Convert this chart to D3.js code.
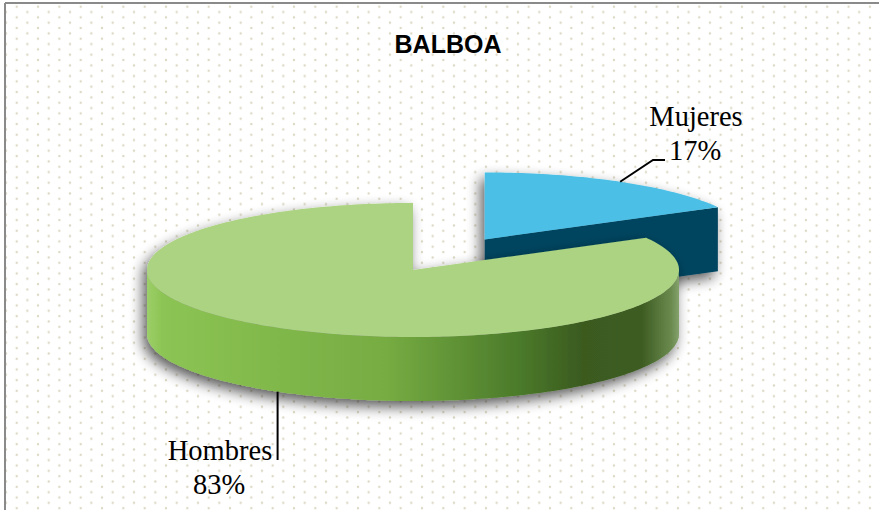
<!DOCTYPE html>
<html>
<head>
<meta charset="utf-8">
<script src="https://cdn.jsdelivr.net/npm/d3@7"></script>
<style>
  body { margin: 0; background: #fff; }
  svg { display: block; }
</style>
</head>
<body>
<script>
// data
var categories = ["Mujeres", "Hombres"];
var values = [17, 83];
var pctLabels = ["17%", "83%"];
var colorsTop = ["#4bbfe6", "#acd381"];
var explode = [0.53, 0];

var width = 879, height = 510;
var cx = 413, cy = 270, rx = 266, ry = 67, depth = 64;

var svg = d3.select("body").append("svg")
  .attr("width", width)
  .attr("height", height);

var defs = svg.append("defs");

// dotted background
var pat = defs.append("pattern")
  .attr("id", "dots")
  .attr("patternUnits", "userSpaceOnUse")
  .attr("x", 16.7).attr("y", 6.7)
  .attr("width", 21.33).attr("height", 10.67);
[[0, 0], [21.33, 0], [0, 10.67], [21.33, 10.67], [10.67, 5.33]].forEach(function(p) {
  pat.append("circle").attr("cx", p[0]).attr("cy", p[1]).attr("r", 1.2).attr("fill", "#dcd8c4");
});

// side gradient for green
var gGrad = defs.append("linearGradient")
  .attr("id", "greenSide")
  .attr("gradientUnits", "userSpaceOnUse")
  .attr("x1", cx - rx).attr("x2", cx + rx).attr("y1", 0).attr("y2", 0);
[[0, "#9ccf68"], [0.03, "#8cc454"], [0.45, "#76ac42"], [0.7, "#4b7a2a"], [0.82, "#3a5a1f"],
 [0.93, "#3d5c22"], [0.985, "#6a8a4e"], [1, "#84a26c"]].forEach(function(s) {
  gGrad.append("stop").attr("offset", s[0]).attr("stop-color", s[1]);
});

var sideFills = ["#00445f", "url(#greenSide)"];

var shadow = defs.append("filter").attr("id", "shadow")
  .attr("x", "-20%").attr("y", "-30%").attr("width", "140%").attr("height", "160%");
shadow.append("feGaussianBlur").attr("in", "SourceAlpha").attr("stdDeviation", 7).attr("result", "b");
shadow.append("feOffset").attr("in", "b").attr("dx", -4).attr("dy", 6).attr("result", "o");
shadow.append("feComponentTransfer").attr("in", "o").attr("result", "s")
  .append("feFuncA").attr("type", "linear").attr("slope", 0.65);
var merge = shadow.append("feMerge");
merge.append("feMergeNode").attr("in", "s");
merge.append("feMergeNode").attr("in", "SourceGraphic");

svg.append("rect")
  .attr("x", 6).attr("y", 4).attr("width", width).attr("height", height)
  .attr("fill", "url(#dots)");

// frame
svg.append("line").attr("x1", 5).attr("y1", 3).attr("x2", width).attr("y2", 3)
  .attr("stroke", "#8a8a8a").attr("stroke-width", 2);
svg.append("line").attr("x1", 5).attr("y1", 3).attr("x2", 5).attr("y2", height)
  .attr("stroke", "#8a8a8a").attr("stroke-width", 2);

svg.append("text")
  .attr("x", 448).attr("y", 53)
  .attr("text-anchor", "middle")
  .style("font-family", "'Liberation Sans', Arial, sans-serif")
  .style("font-weight", "bold")
  .style("font-size", "25px")
  .text("BALBOA");

var pie = d3.pie().sort(null).startAngle(0).endAngle(2 * Math.PI);
var arcs = pie(values);

function pt(c, a, dz) {
  return [c[0] + rx * Math.sin(a), c[1] - ry * Math.cos(a) + (dz || 0)];
}
function sample(a0, a1) {
  var n = Math.max(2, Math.ceil(Math.abs(a1 - a0) / 0.02));
  return d3.range(n + 1).map(function(i) { return a0 + (a1 - a0) * i / n; });
}
var line = d3.line();

arcs.forEach(function(d, i) {
  var mid = (d.startAngle + d.endAngle) / 2;
  d.center = [cx + explode[i] * rx * Math.sin(mid), cy - explode[i] * ry * Math.cos(mid)];
  d.mid = mid;
});

var slices = svg.selectAll("g.slice")
  .data(arcs)
  .enter().append("g")
  .attr("class", "slice")
  .attr("filter", "url(#shadow)");

slices.each(function(d, i) {
  var g = d3.select(this);
  var c = d.center;
  // outer wall, front half only
  var b0 = Math.max(d.startAngle, Math.PI / 2), b1 = Math.min(d.endAngle, 3 * Math.PI / 2);
  if (b1 > b0) {
    var top = sample(b0, b1).map(function(a) { return pt(c, a, 0); });
    var bot = sample(b1, b0).map(function(a) { return pt(c, a, depth); });
    g.append("path").attr("d", line(top.concat(bot)) + "Z").attr("fill", sideFills[i]);
  }
  // cut faces
  if (Math.sin(d.endAngle) > 0.01) {
    var p = pt(c, d.endAngle, 0);
    g.append("path")
      .attr("d", line([c, p, [p[0], p[1] + depth], [c[0], c[1] + depth]]) + "Z")
      .attr("fill", sideFills[i]);
  }
  if (Math.sin(d.startAngle) < -0.01) {
    var q = pt(c, d.startAngle, 0);
    g.append("path")
      .attr("d", line([c, q, [q[0], q[1] + depth], [c[0], c[1] + depth]]) + "Z")
      .attr("fill", sideFills[i]);
  }
  // top face
  var face = [c].concat(sample(d.startAngle, d.endAngle).map(function(a) { return pt(c, a, 0); }));
  g.append("path").attr("d", line(face) + "Z").attr("fill", colorsTop[i]);
});

// labels with leader lines
var labelPos = [[696, 126], [220, 460]];
var serif = "'Liberation Serif', 'Times New Roman', serif";

arcs.forEach(function(d, i) {
  var front = Math.cos(d.mid) < 0;
  var s = pt(d.center, d.mid, front ? depth : 0);
  var pts;
  if (i === 0) pts = [s, [653, 160], [665, 160]];
  else pts = [s, [s[0], 460]];
  svg.append("path").attr("d", line(pts))
    .attr("fill", "none").attr("stroke", "#000").attr("stroke-width", 2);

  var t = svg.append("text")
    .attr("text-anchor", "middle")
    .style("font-family", serif)
    .style("font-size", "28.5px")
    .attr("fill", "#000");
  t.append("tspan").attr("x", labelPos[i][0]).attr("y", labelPos[i][1]).text(categories[i]);
  t.append("tspan").attr("x", labelPos[i][0] - 1).attr("y", labelPos[i][1] + 34).text(pctLabels[i]);
});
</script>
</body>
</html>
